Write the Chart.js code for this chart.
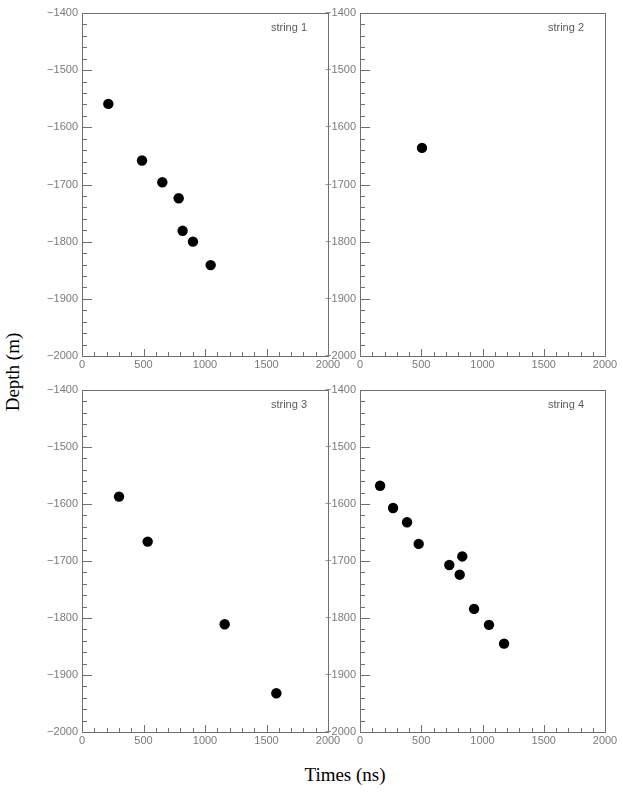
<!DOCTYPE html>
<html>
<head>
<meta charset="utf-8">
<script src="https://cdn.jsdelivr.net/npm/chart.js@4"></script>
<style>
  body { margin: 0; background: #fff; }
  #page { position: relative; width: 623px; height: 792px; overflow: hidden; }
  canvas { position: absolute; }
  .axtitle { position: absolute; font-family: "Liberation Serif", "DejaVu Serif", serif; font-size: 19px; color: #000; white-space: nowrap; }
</style>
</head>
<body>
<div id="page">
  <div class="axtitle" id="ytitle" style="left:13px; top:372px; transform: translate(-50%,-50%) rotate(-90deg);">Depth (m)</div>
  <div class="axtitle" id="xtitle" style="left:345px; top:775px; transform: translate(-50%,-50%);">Times (ns)</div>
</div>
<script>
// tick labels
var xTicks = [0, 500, 1000, 1500, 2000];
var yTicks = [-2000, -1900, -1800, -1700, -1600, -1500, -1400];
var panelNames = ["string 1", "string 2", "string 3", "string 4"];

// hit times (ns) and depths (m) per string
var s1Time  = [214, 488, 653, 786, 818, 902, 1046];
var s1Depth = [-1559, -1658, -1696, -1724, -1781, -1800, -1841];
var s2Time  = [506];
var s2Depth = [-1636];
var s3Time  = [301, 534, 1160, 1580];
var s3Depth = [-1587, -1666, -1811, -1932];
var s4Time  = [164, 270, 384, 479, 729, 835, 814, 931, 1053, 1176];
var s4Depth = [-1568, -1607, -1632, -1670, -1707, -1692, -1724, -1784, -1812, -1845];

var series = [[s1Time, s1Depth], [s2Time, s2Depth], [s3Time, s3Depth], [s4Time, s4Depth]];

// plot area of each panel on the page
var boxes = [
  {l: 82,  t: 13,  r: 328, b: 356},
  {l: 360, t: 13,  r: 605, b: 356},
  {l: 82,  t: 390, r: 328, b: 732},
  {l: 360, t: 390, r: 605, b: 732}
];

var padL = 60, padT = 12, padR = 22, padB = 22;
var frameColor = "#6f6f6f";
var tickFont = {family: "Liberation Sans, Arial, sans-serif", size: 11};

function minus(v) {
  return String(v).replace("-", "\u2212");
}

var framePlugin = {
  id: "frame",
  beforeDatasetsDraw: function(chart) {
    var ctx = chart.ctx, a = chart.chartArea;
    var xs = chart.scales.x, ys = chart.scales.y;
    ctx.save();
    ctx.strokeStyle = frameColor;
    ctx.lineWidth = 1;
    ctx.strokeRect(Math.round(a.left) + 0.5, Math.round(a.top) + 0.5,
                   Math.round(a.right - a.left), Math.round(a.bottom - a.top));
    ctx.beginPath();
    // inward ticks on the depth axis, minor every 20 m
    for (var v = ys.min; v <= ys.max; v += 20) {
      var y = Math.round(ys.getPixelForValue(v)) + 0.5;
      var len = (v % 100 === 0) ? 10 : 5;
      ctx.moveTo(a.left, y);
      ctx.lineTo(a.left + len, y);
    }
    // inward ticks on the time axis, minor every 100 ns
    for (var t = xs.min; t <= xs.max; t += 100) {
      var x = Math.round(xs.getPixelForValue(t)) + 0.5;
      var l2 = (t % 500 === 0) ? 7 : 4;
      ctx.moveTo(x, a.bottom);
      ctx.lineTo(x, a.bottom - l2);
    }
    ctx.stroke();
    ctx.fillStyle = "#5a5a5a";
    ctx.font = "11px Liberation Sans, Arial, sans-serif";
    ctx.textAlign = "right";
    ctx.textBaseline = "middle";
    ctx.fillText(chart.options.plugins.frame.label, a.right - 21, a.top + 15);
    ctx.restore();
  }
};

var page = document.getElementById("page");

boxes.forEach(function(box, i) {
  var w = (box.r - box.l) + padL + padR;
  var h = (box.b - box.t) + padT + padB;
  var cv = document.createElement("canvas");
  cv.width = w;
  cv.height = h;
  cv.style.left = (box.l - padL) + "px";
  cv.style.top = (box.t - padT) + "px";
  cv.style.width = w + "px";
  cv.style.height = h + "px";
  page.appendChild(cv);

  var pts = series[i][0].map(function(t, k) {
    return {x: t, y: series[i][1][k]};
  });

  new Chart(cv, {
    type: "scatter",
    data: {
      datasets: [{
        data: pts,
        pointRadius: 5.2,
        pointHoverRadius: 5.2,
        pointBackgroundColor: "#000",
        pointBorderColor: "#000",
        pointBorderWidth: 0
      }]
    },
    options: {
      responsive: false,
      maintainAspectRatio: false,
      animation: false,
      devicePixelRatio: 1,
      layout: {padding: {left: 0, top: padT, right: padR, bottom: 0}},
      plugins: {
        legend: {display: false},
        tooltip: {enabled: false},
        frame: {label: panelNames[i]}
      },
      scales: {
        x: {
          type: "linear",
          min: 0, max: 2000,
          grid: {display: false, drawTicks: false},
          border: {display: false},
          afterBuildTicks: function(s) {
            s.ticks = xTicks.map(function(v) { return {value: v}; });
          },
          afterFit: function(s) { s.height = padB; },
          ticks: {
            color: "#7a7a7a",
            font: tickFont,
            padding: 2,
            maxRotation: 0,
            autoSkip: false,
            callback: function(v) { return minus(v); }
          }
        },
        y: {
          type: "linear",
          min: -2000, max: -1400,
          grid: {display: false, drawTicks: false},
          border: {display: false},
          afterBuildTicks: function(s) {
            s.ticks = yTicks.map(function(v) { return {value: v}; });
          },
          afterFit: function(s) { s.width = padL; },
          ticks: {
            color: "#7a7a7a",
            font: tickFont,
            padding: 4,
            autoSkip: false,
            callback: function(v) { return minus(v); }
          }
        }
      }
    },
    plugins: [framePlugin]
  });
});
</script>
</body>
</html>
